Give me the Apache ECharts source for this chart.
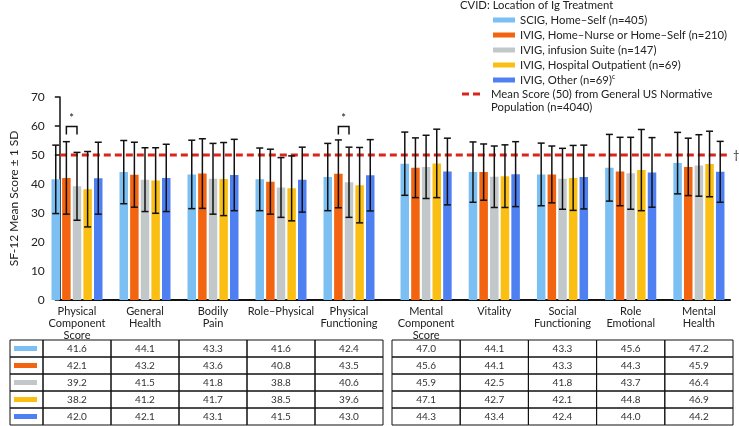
<!DOCTYPE html>
<html>
<head>
<meta charset="utf-8">
<script src="https://cdn.jsdelivr.net/npm/echarts@6/dist/echarts.min.js"></script>
<style>
html, body { margin: 0; padding: 0; background: #fff; }
#chart { width: 739px; height: 426px; }
</style>
</head>
<body>
<div id="chart"></div>
<script>
// categories, split into the physical and the mental half
const physicalCats = ['Physical\nComponent\nScore', 'General\nHealth', 'Bodily\nPain', 'Role–Physical', 'Physical\nFunctioning']
const mentalCats = ['Mental\nComponent\nScore', 'Vitality', 'Social\nFunctioning', 'Role\nEmotional', 'Mental\nHealth']

const seriesNames = ['SCIG, Home–Self (n=405)', 'IVIG, Home–Nurse or Home–Self (n=210)', 'IVIG, infusion Suite (n=147)', 'IVIG, Hospital Outpatient (n=69)', 'IVIG, Other (n=69)']
const colors = ['#7cbff2', '#f2640f', '#c2c8ca', '#fbbf14', '#4f80f2']

// mean scores, physical 5 then mental 5
const scig = [41.6, 44.1, 43.3, 41.6, 42.4, 47.0, 44.1, 43.3, 45.6, 47.2]
const ivigHome = [42.1, 43.2, 43.6, 40.8, 43.5, 45.6, 44.1, 43.3, 44.3, 45.9]
const ivigSuite = [39.2, 41.5, 41.8, 38.8, 40.6, 45.9, 42.5, 41.8, 43.7, 46.4]
const ivigHospital = [38.2, 41.2, 41.7, 38.5, 39.6, 47.1, 42.7, 42.1, 44.8, 46.9]
const ivigOther = [42.0, 42.1, 43.1, 41.5, 43.0, 44.3, 43.4, 42.4, 44.0, 44.2]

// standard deviations
const scigSd = [11.8, 10.9, 11.8, 10.8, 11.6, 10.9, 10.4, 10.8, 11.5, 10.6]
const ivigHomeSd = [12.5, 11.2, 12.0, 11.2, 11.7, 10.3, 9.7, 9.8, 11.8, 9.9]
const ivigSuiteSd = [11.7, 11.0, 12.2, 10.3, 12.1, 10.9, 10.6, 10.5, 12.4, 10.6]
const ivigHospitalSd = [13.0, 11.3, 12.6, 11.2, 13.0, 11.8, 10.8, 11.2, 14.0, 11.3]
const ivigOtherSd = [12.4, 11.6, 12.3, 11.2, 12.3, 11.5, 11.2, 11.0, 12.0, 10.5]

// significant pairs: [category index, series a, series b]
const sigPairs = [[0, 1, 2], [4, 1, 2]]

const normName = 'Mean Score (50) from General US Normative\nPopulation (n=4040)'
const normMean = 50
const yTicks = [0, 10, 20, 30, 40, 50, 60, 70]

const means = [scig, ivigHome, ivigSuite, ivigHospital, ivigOther]
const sds = [scigSd, ivigHomeSd, ivigSuiteSd, ivigHospitalSd, ivigOtherSd]

const BAR_W = 0.125
const BAR_GAP = 0.25
const FONT = 'Lato'
const TXT = '#222'
const LEG_SIZE = 11.3

const chart = echarts.init(document.getElementById('chart'), null, {renderer: 'canvas'})

function errorData(half) {
    const out = []
    means.forEach((m, s) => {
        for (let j = 0; j < 5; j++) {
            const k = half * 5 + j
            out.push([j, m[k], sds[s][k], s])
        }
    })
    return out
}

function renderError(params, api) {
    const c = api.value(0), m = api.value(1), sd = api.value(2), s = api.value(3)
    const band = api.size([1, 0])[0]
    const step = band * BAR_W * (1 + BAR_GAP)
    const x = api.coord([c, m])[0] + (s - 2) * step
    const top = api.coord([c, m + sd])[1]
    const bot = api.coord([c, m - sd])[1]
    const cap = 3.5
    const st = {stroke: '#111', lineWidth: 1.5}
    return {
        type: 'group',
        children: [
            {type: 'line', shape: {x1: x, y1: top, x2: x, y2: bot}, style: st},
            {type: 'line', shape: {x1: x - cap, y1: top, x2: x + cap, y2: top}, style: st},
            {type: 'line', shape: {x1: x - cap, y1: bot, x2: x + cap, y2: bot}, style: st}
        ]
    }
}

function renderBracket(params, api) {
    const c = api.value(0), a = api.value(1), b = api.value(2)
    const band = api.size([1, 0])[0]
    const step = band * BAR_W * (1 + BAR_GAP)
    const cx = api.coord([c, 0])[0]
    const xa = cx + (a - 2) * step
    const xb = cx + (b - 2) * step
    const yTop = api.coord([c, 59.8])[1]
    const yLeg = api.coord([c, 57.1])[1]
    return {
        type: 'group',
        children: [
            {type: 'polyline', shape: {points: [[xa, yLeg], [xa, yTop], [xb, yTop], [xb, yLeg]]},
                style: {stroke: '#111', lineWidth: 1.5, fill: null}},
            {type: 'text', x: (xa + xb) / 2, y: yTop - 3,
                style: {text: '*', fill: '#111', font: '11px ' + FONT, align: 'center', verticalAlign: 'bottom'}}
        ]
    }
}

function tableData(half) {
    const out = []
    means.forEach((m, s) => {
        for (let j = 0; j < 5; j++) out.push([j, s, m[half * 5 + j]])
    })
    return out
}

function makeTableRenderer(withKey) {
    return function (params, api) {
        const j = api.value(0), s = api.value(1), v = api.value(2)
        const [cx, cy] = api.coord([j, s])
        const [w, h] = api.size([1, 1])
        const children = [
            {type: 'rect', shape: {x: cx - w / 2, y: cy - h / 2, width: w, height: h},
                style: {fill: null, stroke: '#111', lineWidth: 1}},
            {type: 'text', x: cx, y: cy,
                style: {text: v.toFixed(1), fill: '#333', font: '10px ' + FONT, align: 'center', verticalAlign: 'middle'}}
        ]
        if (withKey && j === 0) {
            const kx = cx - w / 2 - 33
            children.push(
                {type: 'rect', shape: {x: kx, y: cy - h / 2, width: 33, height: h},
                    style: {fill: null, stroke: '#111', lineWidth: 1}},
                {type: 'rect', shape: {x: kx + 4, y: cy - 2.5, width: 23, height: 5},
                    style: {fill: colors[s]}}
            )
        }
        return {type: 'group', children}
    }
}

const series = []
seriesNames.forEach((name, s) => {
    ;[0, 1].forEach(half => {
        series.push({
            name,
            type: 'bar',
            xAxisIndex: half + 1,
            yAxisIndex: half + 1,
            data: means[s].slice(half * 5, half * 5 + 5),
            barWidth: (BAR_W * 100) + '%',
            barGap: (BAR_GAP * 100) + '%',
            itemStyle: {color: colors[s]},
            emphasis: {disabled: true},
            z: 2
        })
    })
})

;[0, 1].forEach(half => {
    series.push({
        type: 'custom',
        xAxisIndex: half + 1,
        yAxisIndex: half + 1,
        renderItem: renderError,
        data: errorData(half),
        encode: {x: 0, y: 1},
        z: 5,
        silent: true
    })
    series.push({
        type: 'custom',
        xAxisIndex: half + 3,
        yAxisIndex: half + 3,
        renderItem: makeTableRenderer(half === 0),
        data: tableData(half),
        encode: {x: 0, y: 1},
        silent: true
    })
})

series.push({
    type: 'custom',
    xAxisIndex: 1,
    yAxisIndex: 1,
    renderItem: renderBracket,
    data: sigPairs,
    encode: {x: 0},
    z: 5,
    silent: true
})

series.push({
    name: normName,
    type: 'line',
    xAxisIndex: 0,
    yAxisIndex: 0,
    data: [normMean, normMean],
    symbol: 'none',
    color: '#d9261c',
    lineStyle: {color: '#d9261c', width: 3, type: [7, 4]},
    endLabel: {show: true, formatter: '†', color: TXT, fontSize: 11, distance: 3},
    emphasis: {disabled: true},
    z: 4,
    silent: true
})

const hiddenCat = (data, grid) => ({
    type: 'category', gridIndex: grid, data,
    axisLine: {show: false}, axisTick: {show: false},
    axisLabel: {show: false}, splitLine: {show: false}
})

const option = {
    animation: false,
    textStyle: {fontFamily: FONT},
    title: {
        text: 'CVID: Location of Ig Treatment',
        left: 460, top: 0, padding: 0,
        textStyle: {fontSize: LEG_SIZE, fontWeight: 'normal', color: TXT, fontFamily: FONT}
    },
    legend: [
        {
            data: seriesNames,
            orient: 'vertical',
            left: 493, top: 13, padding: 0,
            itemWidth: 22, itemHeight: 5, itemGap: 1,
            icon: 'rect',
            selectedMode: false,
            formatter: n => n === 'IVIG, Other (n=69)' ? n + '{sup|c}' : n,
            textStyle: {fontSize: LEG_SIZE, lineHeight: 14, color: TXT, fontFamily: FONT,
                rich: {sup: {fontSize: 7, verticalAlign: 'top', color: TXT, padding: [0, 0, 6, 0]}}}
        },
        {
            data: [normName],
            orient: 'vertical',
            left: 462, top: 74.5, padding: 0,
            itemWidth: 18, itemHeight: 3,
            icon: 'path://M0 0H7V3H0Z M11 0H18V3H11Z',
            selectedMode: false,
            // leading blank line keeps the first text line level with the dashes
            formatter: n => '\u00a0\n' + n,
            textStyle: {fontSize: LEG_SIZE, lineHeight: 13, color: TXT, fontFamily: FONT, padding: [0, 0, 0, 6]}
        }
    ],
    grid: [
        {left: 47, width: 683, top: 97, bottom: 126},
        {left: 43, width: 340, top: 97, bottom: 126},
        {left: 392, width: 341, top: 97, bottom: 126},
        {left: 43, width: 340, top: 340, height: 85},
        {left: 392, width: 341, top: 340, height: 85}
    ],
    xAxis: [
        {type: 'category', gridIndex: 0, data: ['', ''], boundaryGap: false,
            axisLine: {lineStyle: {color: '#111', width: 2}}, axisTick: {show: false}, axisLabel: {show: false}},
        {type: 'category', gridIndex: 1, data: physicalCats,
            axisLine: {show: false}, axisTick: {show: false},
            axisLabel: {interval: 0, fontSize: 11, lineHeight: 12, color: TXT, margin: 5, fontFamily: FONT}},
        {type: 'category', gridIndex: 2, data: mentalCats,
            axisLine: {show: false}, axisTick: {show: false},
            axisLabel: {interval: 0, fontSize: 11, lineHeight: 12, color: TXT, margin: 5, fontFamily: FONT}},
        hiddenCat([0, 1, 2, 3, 4], 3),
        hiddenCat([0, 1, 2, 3, 4], 4)
    ],
    yAxis: [
        {type: 'value', gridIndex: 0, min: yTicks[0], max: yTicks[yTicks.length - 1], interval: 10,
            name: 'SF-12 Mean Score ± 1 SD', nameLocation: 'middle', nameGap: 38,
            nameTextStyle: {fontSize: 12, color: TXT, fontFamily: FONT},
            axisLine: {show: true, lineStyle: {color: '#111', width: 1.5}},
            axisTick: {show: true, length: 5, lineStyle: {color: '#111', width: 1.5}},
            axisLabel: {fontSize: 12, color: TXT, margin: 15, fontFamily: FONT},
            splitLine: {show: false}},
        {type: 'value', gridIndex: 1, min: 0, max: 70, show: false},
        {type: 'value', gridIndex: 2, min: 0, max: 70, show: false},
        Object.assign(hiddenCat(seriesNames.map((n, i) => i), 3), {inverse: true}),
        Object.assign(hiddenCat(seriesNames.map((n, i) => i), 4), {inverse: true})
    ],
    series
}

chart.setOption(option)
</script>
</body>
</html>
